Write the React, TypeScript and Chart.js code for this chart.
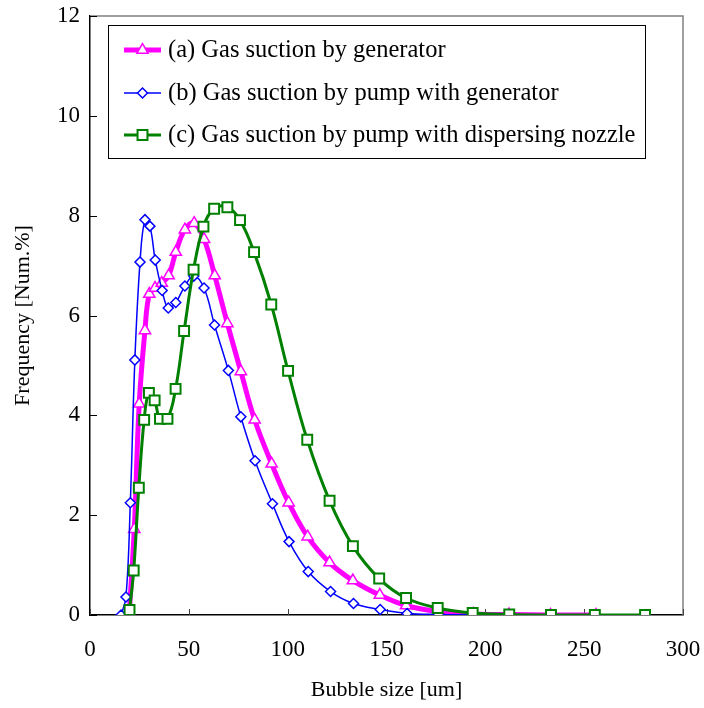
import React, { useEffect, useRef } from "react";
import { Chart, registerables } from "chart.js";
Chart.register(...registerables);

const xTicks = [0, 50, 100, 150, 200, 250, 300];
const yTicks = [0, 2, 4, 6, 8, 10, 12];
const xTitle = "Bubble size [um]";
const yTitle = "Frequency [Num.%]";
const seriesLabels = [
  "(a) Gas suction by generator",
  "(b) Gas suction by pump with generator",
  "(c) Gas suction by pump with dispersing nozzle",
];

// (a) Gas suction by generator
const aX = [19.8, 22.4, 24.9, 27.8, 30.0, 32.9, 36.3, 39.8, 43.4, 48.0, 52.7, 57.7, 63.1, 69.5, 76.3, 83.3, 91.9, 100.5, 110.1, 121.2, 133.0, 146.6, 159.9, 176.0, 194.0, 212.0, 233.0, 256.0];
const aY = [0.0, 1.72, 4.23, 5.7, 6.43, 6.55, 6.65, 6.8, 7.27, 7.72, 7.85, 7.53, 6.8, 5.84, 4.88, 3.91, 3.03, 2.25, 1.57, 1.05, 0.69, 0.4, 0.19, 0.07, 0.02, 0.01, 0.0, 0.0];

// (b) Gas suction by pump with generator
const bX = [15.7, 18.2, 20.4, 22.7, 25.3, 27.8, 30.3, 33.0, 36.5, 39.6, 43.4, 48.0, 52.5, 57.7, 63.0, 70.0, 76.3, 83.5, 92.3, 100.7, 110.4, 121.7, 133.3, 146.8, 160.4, 176.3, 194.4];
const bY = [0.0, 0.36, 2.25, 5.11, 7.07, 7.92, 7.79, 7.11, 6.5, 6.15, 6.26, 6.59, 6.79, 6.55, 5.81, 4.9, 3.97, 3.09, 2.23, 1.47, 0.87, 0.47, 0.23, 0.11, 0.03, 0.01, 0.0];

// (c) Gas suction by pump with dispersing nozzle
const cX = [20.0, 22.1, 24.7, 27.4, 29.8, 32.7, 35.4, 39.2, 43.3, 47.6, 52.4, 57.4, 62.8, 69.5, 75.9, 83.0, 91.7, 100.2, 109.9, 121.2, 133.0, 146.3, 159.9, 175.9, 193.6, 212.1, 233.2, 255.4, 280.8];
const cY = [0.1, 0.89, 2.55, 3.91, 4.45, 4.3, 3.93, 3.93, 4.53, 5.69, 6.92, 7.78, 8.14, 8.17, 7.91, 7.27, 6.22, 4.89, 3.51, 2.29, 1.38, 0.73, 0.34, 0.14, 0.04, 0.01, 0.0, 0.0, 0.0];

const FONT = '"Liberation Serif", "Times New Roman", serif';
const MAGENTA = "#FF00FF";
const BLUE = "#0000FF";
const GREEN = "#008000";

const toPts = (xs: number[], ys: number[]) => xs.map((x, i) => ({ x, y: ys[i] }));

function marker(ctx: CanvasRenderingContext2D, style: string, x: number, y: number, r: number) {
  ctx.beginPath();
  if (style === "triangle") {
    ctx.moveTo(x, y - r);
    ctx.lineTo(x + r * Math.sin((2 * Math.PI) / 3), y - r * Math.cos((2 * Math.PI) / 3));
    ctx.lineTo(x - r * Math.sin((2 * Math.PI) / 3), y - r * Math.cos((2 * Math.PI) / 3));
  } else if (style === "rectRot") {
    ctx.moveTo(x - r, y);
    ctx.lineTo(x, y - r);
    ctx.lineTo(x + r, y);
    ctx.lineTo(x, y + r);
  } else {
    const s = r * Math.SQRT1_2;
    ctx.rect(x - s, y - s, 2 * s, 2 * s);
  }
  ctx.closePath();
  ctx.fill();
  ctx.stroke();
}

export default function App() {
  const ref = useRef<HTMLCanvasElement>(null);
  useEffect(() => {
    if (!ref.current) return;
    const frame = {
      id: "frame",
      beforeDatasetsDraw(chart: any) {
        const { ctx, chartArea: a, scales } = chart;
        ctx.save();
        ctx.strokeStyle = "#808080";
        ctx.lineWidth = 1.5;
        ctx.beginPath();
        ctx.moveTo(a.left, a.top);
        ctx.lineTo(a.right, a.top);
        ctx.lineTo(a.right, a.bottom);
        ctx.stroke();
        ctx.lineWidth = 1;
        ctx.strokeStyle = "#404040";
        xTicks.forEach((v) => {
          const px = Math.round(scales.x.getPixelForValue(v)) + 0.5;
          ctx.beginPath();
          ctx.moveTo(px, a.bottom);
          ctx.lineTo(px, a.bottom - 6);
          ctx.stroke();
        });
        ctx.strokeStyle = "#000";
        yTicks.forEach((v) => {
          const py = Math.round(scales.y.getPixelForValue(v)) + 0.5;
          ctx.beginPath();
          ctx.moveTo(a.left, py);
          ctx.lineTo(a.left + 7, py);
          ctx.stroke();
        });
        ctx.restore();
      },
      afterDraw(chart: any) {
        const ctx: CanvasRenderingContext2D = chart.ctx;
        ctx.save();
        const bx = 108, by = 25, bw = 537, bh = 133;
        ctx.fillStyle = "#fff";
        ctx.fillRect(bx, by, bw, bh);
        ctx.strokeStyle = "#000";
        ctx.lineWidth = 1;
        ctx.strokeRect(bx + 0.5, by + 0.5, bw, bh);
        const rows = [50, 93, 135];
        const styles = [
          { c: MAGENTA, w: 5, p: "triangle", r: 6.5, bw: 1.5 },
          { c: BLUE, w: 1.5, p: "rectRot", r: 5, bw: 1.5 },
          { c: GREEN, w: 3, p: "rect", r: 7, bw: 2 },
        ];
        rows.forEach((y, i) => {
          const s = styles[i];
          ctx.strokeStyle = s.c;
          ctx.lineWidth = s.w;
          ctx.beginPath();
          ctx.moveTo(124, y);
          ctx.lineTo(161, y);
          ctx.stroke();
          ctx.fillStyle = "#fff";
          ctx.lineWidth = s.bw;
          marker(ctx, s.p, 142.5, y, s.r);
          ctx.fillStyle = "#000";
          ctx.font = `24.5px ${FONT}`;
          ctx.textAlign = "left";
          ctx.textBaseline = "middle";
          ctx.fillText(seriesLabels[i], 168, y + 1);
        });
        ctx.restore();
      },
    };

    const chart = new Chart(ref.current, {
      type: "line",
      data: {
        datasets: [
          {
            label: seriesLabels[0],
            data: toPts(aX, aY),
            borderColor: MAGENTA,
            borderWidth: 5,
            pointStyle: "triangle",
            pointRadius: 6.5,
            pointBackgroundColor: "#fff",
            pointBorderColor: MAGENTA,
            pointBorderWidth: 1.5,
            tension: 0.4,
            order: 3,
          },
          {
            label: seriesLabels[1],
            data: toPts(bX, bY),
            borderColor: BLUE,
            borderWidth: 1.5,
            pointStyle: "rectRot",
            pointRadius: 5,
            pointBackgroundColor: "#fff",
            pointBorderColor: BLUE,
            pointBorderWidth: 1.5,
            tension: 0.4,
            order: 2,
          },
          {
            label: seriesLabels[2],
            data: toPts(cX, cY),
            borderColor: GREEN,
            borderWidth: 3,
            pointStyle: "rect",
            pointRadius: 7,
            pointBackgroundColor: "#fff",
            pointBorderColor: GREEN,
            pointBorderWidth: 2,
            tension: 0.4,
            order: 1,
          },
        ],
      } as any,
      options: {
        animation: false,
        responsive: false,
        devicePixelRatio: 1,
        layout: { padding: { top: 16, right: 21, left: 0, bottom: 0 } },
        plugins: { legend: { display: false }, tooltip: { enabled: false } },
        scales: {
          x: {
            type: "linear",
            min: 0,
            max: 300,
            afterBuildTicks: (s: any) => {
              s.ticks = xTicks.map((v) => ({ value: v }));
            },
            afterFit: (s: any) => {
              s.height = 93;
              s.paddingLeft = 0;
              s.paddingRight = 0;
            },
            grid: { display: false, drawTicks: false },
            border: { display: true, color: "#000", width: 1.5 },
            ticks: { padding: 21, color: "#000", font: { family: FONT, size: 23 } },
            title: {
              display: true,
              text: xTitle,
              color: "#000",
              font: { family: FONT, size: 22 },
              padding: { top: 0, bottom: 5 },
            },
          },
          y: {
            type: "linear",
            min: 0,
            max: 12,
            afterBuildTicks: (s: any) => {
              s.ticks = yTicks.map((v) => ({ value: v }));
            },
            afterFit: (s: any) => {
              s.width = 90;
              s.paddingTop = 0;
              s.paddingBottom = 0;
            },
            grid: { display: false, drawTicks: false },
            border: { display: true, color: "#000", width: 1.5 },
            ticks: { padding: 10, color: "#000", font: { family: FONT, size: 23 } },
            title: {
              display: true,
              text: yTitle,
              color: "#000",
              font: { family: FONT, size: 22 },
              padding: { top: 10, bottom: 0 },
            },
          },
        },
      } as any,
      plugins: [frame],
    });
    return () => chart.destroy();
  }, []);
  return (
    <div style={{ position: "absolute", left: 0, top: 0, width: 704, height: 708, background: "#fff" }}>
      <canvas ref={ref} width={704} height={708} />
    </div>
  );
}
